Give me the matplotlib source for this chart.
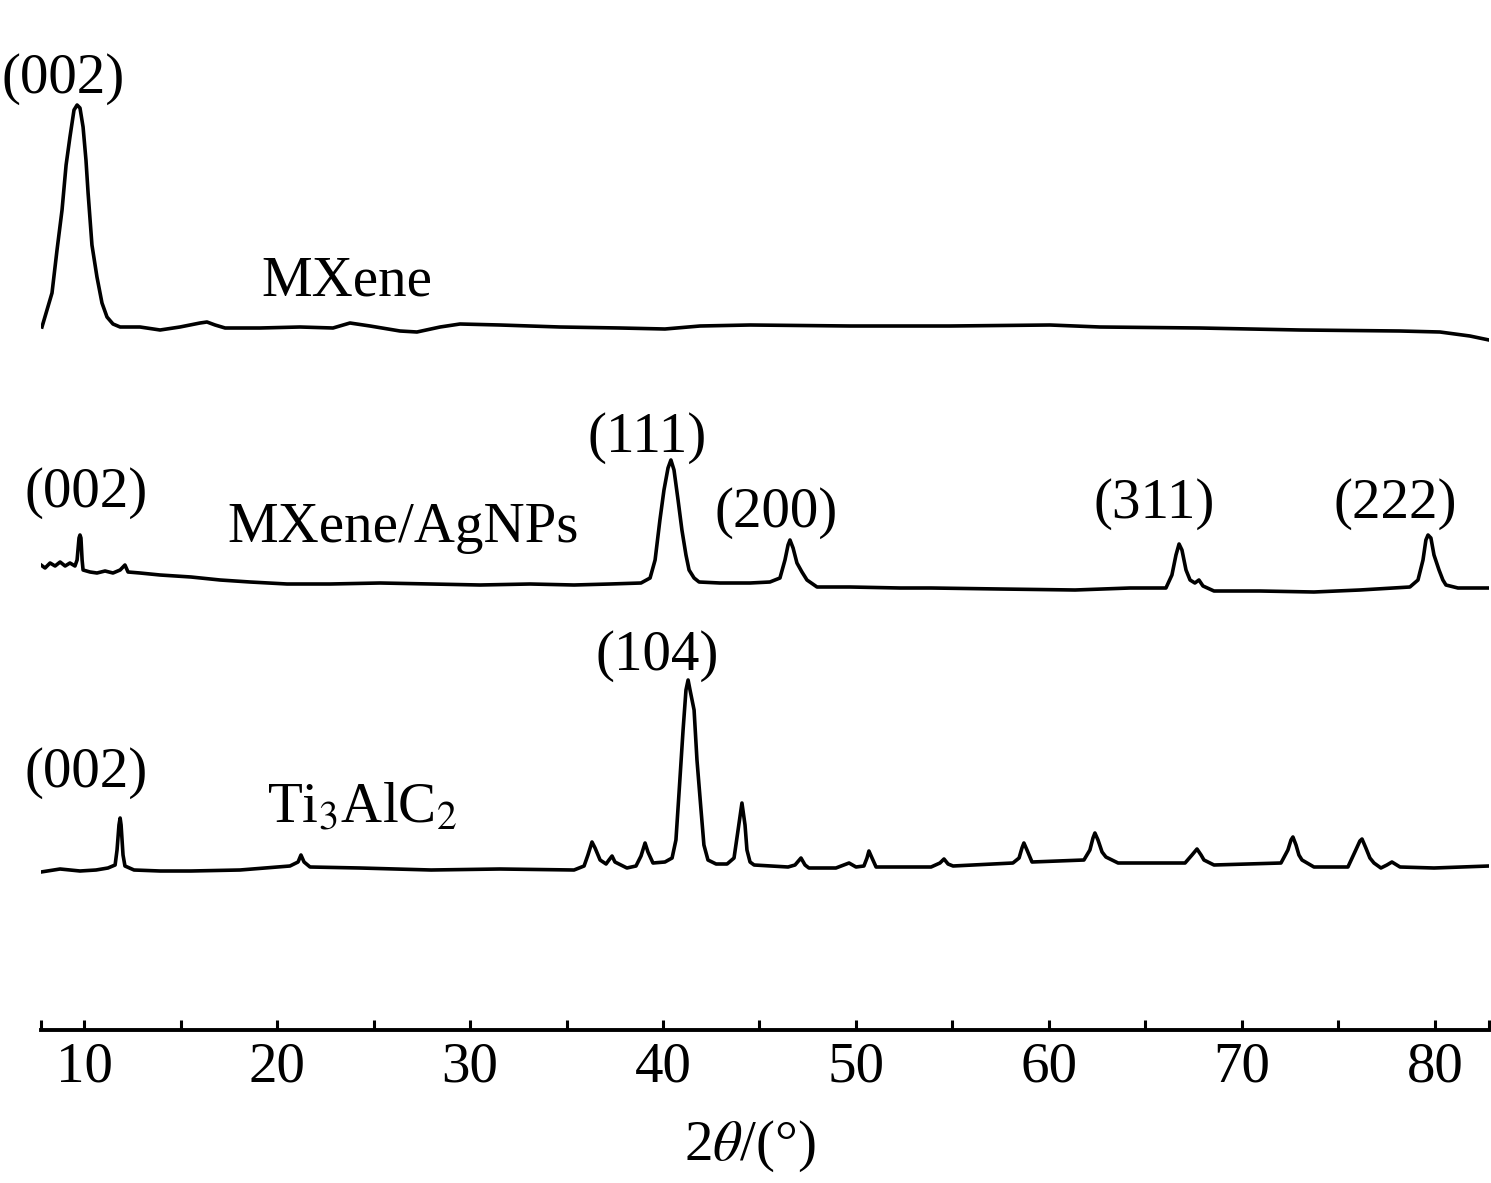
import matplotlib
matplotlib.use("Agg")
import matplotlib.pyplot as plt
from matplotlib.ticker import FixedLocator, NullFormatter

plt.rcParams["font.family"] = ["Liberation Serif", "DejaVu Serif"]
plt.rcParams["mathtext.fontset"] = "stix"

# ---- data: 2theta (deg) and stacked intensity (a.u.) ----
mxene_2t = [7.82, 8.34, 8.60, 8.86, 9.07, 9.27, 9.48, 9.64, 9.79, 9.95,
            10.10, 10.21, 10.41, 10.67, 10.93, 11.19, 11.50, 11.87, 12.90, 13.94,
            14.97, 16.01, 16.37, 16.79, 17.31, 19.12, 21.19, 22.90, 23.78, 24.82,
            26.37, 27.25, 28.45, 29.48, 31.55, 34.66, 37.77, 40.10, 41.92, 44.51,
            49.69, 54.87, 60.05, 62.64, 67.82, 73.01, 78.19, 80.26, 81.81, 82.80]
mxene_i = [703, 737, 780, 820, 865, 893, 920, 925, 922, 903,
           870, 837, 785, 753, 727, 713, 706, 703, 703, 700,
           703, 707, 708, 705, 702, 702, 703, 702, 707, 704,
           699, 698, 703, 706, 705, 703, 702, 701, 704, 705,
           704, 704, 705, 703, 702, 700, 699, 698, 694, 690]

ag_2t = [7.77, 7.98, 8.24, 8.50, 8.76, 9.02, 9.27, 9.53, 9.64, 9.74,
         9.79, 9.84, 9.90, 9.95, 10.31, 10.67, 11.09, 11.50, 11.87, 12.12,
         12.28, 12.90, 13.94, 15.54, 17.05, 18.60, 20.52, 22.75, 25.34, 27.98,
         30.52, 33.11, 35.39, 37.25, 38.86, 39.33, 39.59, 39.84, 40.05, 40.26,
         40.41, 40.57, 40.78, 40.98, 41.19, 41.35, 41.61, 41.87, 42.95, 44.51,
         45.54, 46.06, 46.32, 46.48, 46.58, 46.74, 46.94, 47.20, 47.46, 47.98,
         49.69, 52.28, 53.89, 57.46, 61.35, 64.20, 66.06, 66.37, 66.58, 66.74,
         66.89, 67.10, 67.31, 67.56, 67.77, 67.98, 68.55, 70.93, 73.73, 76.11,
         78.70, 79.12, 79.38, 79.53, 79.64, 79.79, 79.95, 80.21, 80.41, 80.57,
         81.19, 82.80]
ag_i = [465, 462, 467, 464, 468, 464, 467, 464, 470, 492,
        495, 492, 470, 460, 458, 457, 459, 457, 460, 465,
        458, 457, 455, 453, 450, 448, 446, 446, 447, 446,
        445, 446, 445, 446, 447, 452, 470, 510, 540, 562,
        570, 560, 530, 500, 475, 460, 452, 448, 447, 447,
        448, 452, 470, 485, 490, 482, 467, 458, 450, 443,
        443, 442, 442, 441, 440, 442, 442, 455, 475, 486,
        480, 460, 450, 447, 450, 444, 439, 439, 438, 440,
        443, 450, 470, 490, 495, 492, 475, 460, 450, 445,
        442, 442]

ti_2t = [7.77, 8.76, 9.79, 10.62, 11.24, 11.61, 11.71, 11.81, 11.87, 11.92,
         12.02, 12.12, 12.59, 13.94, 15.54, 18.08, 20.67, 21.09, 21.24, 21.40,
         21.71, 24.30, 27.98, 31.55, 35.39, 35.91, 36.11, 36.32, 36.48, 36.74,
         37.05, 37.20, 37.36, 37.51, 38.13, 38.60, 38.86, 39.07, 39.22, 39.48,
         40.10, 40.47, 40.67, 40.83, 41.04, 41.19, 41.30, 41.40, 41.61, 41.76,
         41.97, 42.12, 42.33, 42.75, 43.32, 43.68, 43.89, 44.09, 44.25, 44.35,
         44.51, 44.72, 46.48, 46.84, 47.15, 47.36, 47.56, 48.96, 49.64, 50.00,
         50.41, 50.57, 50.67, 50.83, 51.04, 53.89, 54.35, 54.56, 54.77, 55.03,
         58.13, 58.45, 58.60, 58.70, 58.86, 59.12, 61.81, 62.12, 62.28, 62.38,
         62.54, 62.75, 62.95, 63.58, 67.05, 67.41, 67.67, 67.88, 68.03, 68.55,
         72.02, 72.38, 72.54, 72.64, 72.80, 72.95, 73.11, 73.73, 75.49, 75.85,
         76.11, 76.22, 76.42, 76.63, 76.84, 77.20, 77.51, 77.77, 78.19, 79.95,
         82.80]
ti_i = [158, 161, 159, 160, 162, 165, 180, 205, 212, 205,
        175, 164, 160, 159, 159, 160, 164, 168, 175, 168,
        163, 162, 160, 161, 160, 164, 175, 188, 182, 170,
        166, 170, 174, 168, 162, 164, 174, 187, 178, 167,
        168, 172, 190, 237, 300, 340, 350, 340, 320, 270,
        220, 185, 170, 166, 166, 172, 200, 227, 205, 180,
        168, 165, 163, 165, 172, 165, 162, 162, 167, 163,
        164, 172, 179, 172, 163, 163, 167, 171, 166, 164,
        167, 172, 182, 187, 180, 168, 170, 180, 192, 197,
        190, 178, 173, 167, 167, 175, 181, 175, 170, 165,
        167, 180, 190, 193, 185, 175, 170, 163, 163, 178,
        189, 191, 182, 172, 167, 162, 165, 168, 163, 162,
        164]

# curve names and peak (hkl) labels: (text, 2theta, intensity)
names = [("MXene", 23.63, 735), ("MXene/AgNPs", 26.53, 488),
         ("Ti$_3$AlC$_2$", 24.4, 208)]
hkl_labels = [("(002)", 8.91, 937),
              ("(002)", 10.10, 523), ("(111)", 39.17, 578), ("(200)", 45.85, 503),
              ("(311)", 65.44, 512), ("(222)", 77.93, 512),
              ("(104)", 39.69, 360), ("(002)", 10.10, 243)]

major_ticks = [10, 20, 30, 40, 50, 60, 70, 80]
minor_ticks = [15, 25, 35, 45, 55, 65, 75]
x_min, x_max = 7.77, 82.8

fig = plt.figure(figsize=(14.91, 11.83), dpi=100)
ax = fig.add_axes([41 / 1491, 1 - 1030 / 1183, 1448 / 1491, 1030 / 1183])

for xs, ys in [(mxene_2t, mxene_i), (ag_2t, ag_i), (ti_2t, ti_i)]:
    ax.plot(xs, ys, color="black", lw=2.6, solid_joinstyle="round")

fs = 41
for txt, x, y in names:
    ax.text(x, y, txt, fontsize=fs, ha="center", va="baseline")
for txt, x, y in hkl_labels:
    ax.text(x, y, txt, fontsize=fs, ha="center", va="baseline")

ax.set_xlim(x_min, x_max)
ax.set_ylim(0, 1030)
for s in ["top", "left", "right"]:
    ax.spines[s].set_visible(False)
ax.spines["bottom"].set_linewidth(2.8)
ax.set_yticks([])
ax.xaxis.set_major_locator(FixedLocator(major_ticks))
ax.xaxis.set_minor_locator(FixedLocator(minor_ticks + [x_min, x_max]))
ax.xaxis.set_minor_formatter(NullFormatter())
ax.tick_params(axis="x", which="both", direction="in", length=7, width=2.2,
               labelsize=fs, pad=8)
ax.patch.set_alpha(0)

fig.text(750 / 1491, 1 - 1160 / 1183, r"2$\theta$/(°)", fontsize=fs,
         ha="center", va="baseline")

fig.savefig("out.png", dpi=100)
